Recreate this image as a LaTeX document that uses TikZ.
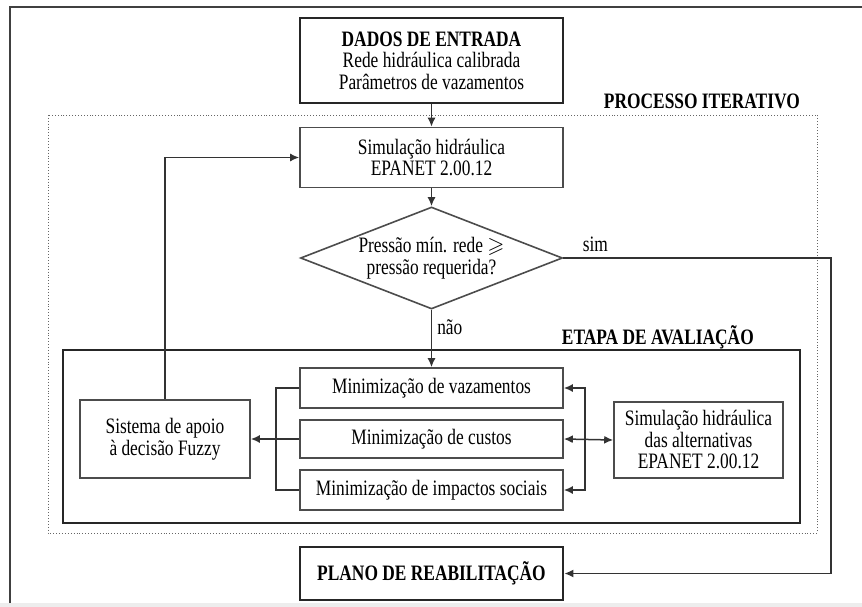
\documentclass[tikz,border=0pt]{standalone}
\usepackage{amssymb}
\usepackage{fontspec}
\setmainfont[FakeStretch=0.79]{Liberation Serif}
\usepackage{tikz}
\usetikzlibrary{arrows.meta}
\usetikzlibrary{shapes.geometric}

\begin{document}
\begin{tikzpicture}[x=1pt,y=-1pt,
  caixa/.style={draw=black!70, line width=1.6pt, align=center, inner sep=0pt, minimum width=263pt, font=\fontsize{22}{21.5}\selectfont},
  grossa/.style={caixa, draw=black!85, line width=2.8pt},
  rotulo/.style={inner sep=0pt, font=\fontsize{22}{21.5}\selectfont},
  seta/.style={draw=black!80, line width=1.5pt, -{Latex[length=9pt,width=8pt]}}]
\useasboundingbox (0,0) rectangle (862,607);
\fill[black!7] (0,603) rectangle (862,607);
\draw[line width=1.6pt, black!75] (10,603) -- (10,7) -- (862,7);
\draw[black!60, line width=0.9pt, dotted] (48,115) rectangle (817,533);
\draw[black!85, line width=2.8pt] (63,350) rectangle (800,523);
\node[rotulo, anchor=east] (processo) at (800,101) {\bfseries PROCESSO ITERATIVO};
\node[rotulo, anchor=east] (etapa) at (754,337) {\bfseries ETAPA DE AVALIAÇÃO};
\node[grossa, minimum height=85pt] (dados) at (431.5,60.5) {\textbf{DADOS DE ENTRADA}\\Rede hidráulica calibrada\\Parâmetros de vazamentos};
\node[caixa, minimum height=60pt] (simul) at (431.5,157.5) {Simulação hidráulica\\EPANET 2.00.12};
\node[caixa, diamond, minimum width=262pt, minimum height=102pt, aspect=2.5] (teste) at (431.5,258) {Pressão mín. rede $\geqslant$\\pressão requerida?};
\node[caixa, minimum height=40pt] (vaz) at (431.5,388) {Minimização de vazamentos};
\node[caixa, minimum height=38pt] (custos) at (431.5,439) {Minimização de custos};
\node[caixa, minimum height=40pt] (impactos) at (431.5,490) {Minimização de impactos sociais};
\node[caixa, minimum width=170pt, minimum height=78pt] (sistema) at (165,439) {Sistema de apoio\\à decisão Fuzzy};
\node[caixa, minimum width=169pt, minimum height=76pt] (simalt) at (698.5,440) {Simulação hidráulica\\das alternativas\\EPANET 2.00.12};
\node[grossa, minimum height=53pt] (plano) at (431.5,573.5) {\bfseries PLANO DE REABILITAÇÃO};
\coordinate (desvio) at (831,258);
\coordinate (ramo) at (585,439);
\draw[seta] (dados) -- (simul);
\draw[seta] (simul) -- (teste);
\draw[seta] (teste) -- node[rotulo, right=5pt, pos=0.3] (nao) {não} (vaz);
\draw[seta] (teste.east) -- node[rotulo, above=6pt, pos=0.12] (sim) {sim} (desvio) |- (plano.east);
\draw[seta] (sistema.north) |- (simul.west);
\draw[draw=black!80, line width=1.5pt] (vaz.west) -- ++(-23,0) |- (impactos.west);
\draw[seta] (custos.west) -- (sistema.east);
\draw[seta, {Latex[length=9pt,width=8pt]}-{Latex[length=9pt,width=8pt]}] (custos.east) -- (simalt.west);
\draw[seta] (ramo) |- (vaz.east);
\draw[seta] (ramo) |- (impactos.east);
\end{tikzpicture}
\end{document}
